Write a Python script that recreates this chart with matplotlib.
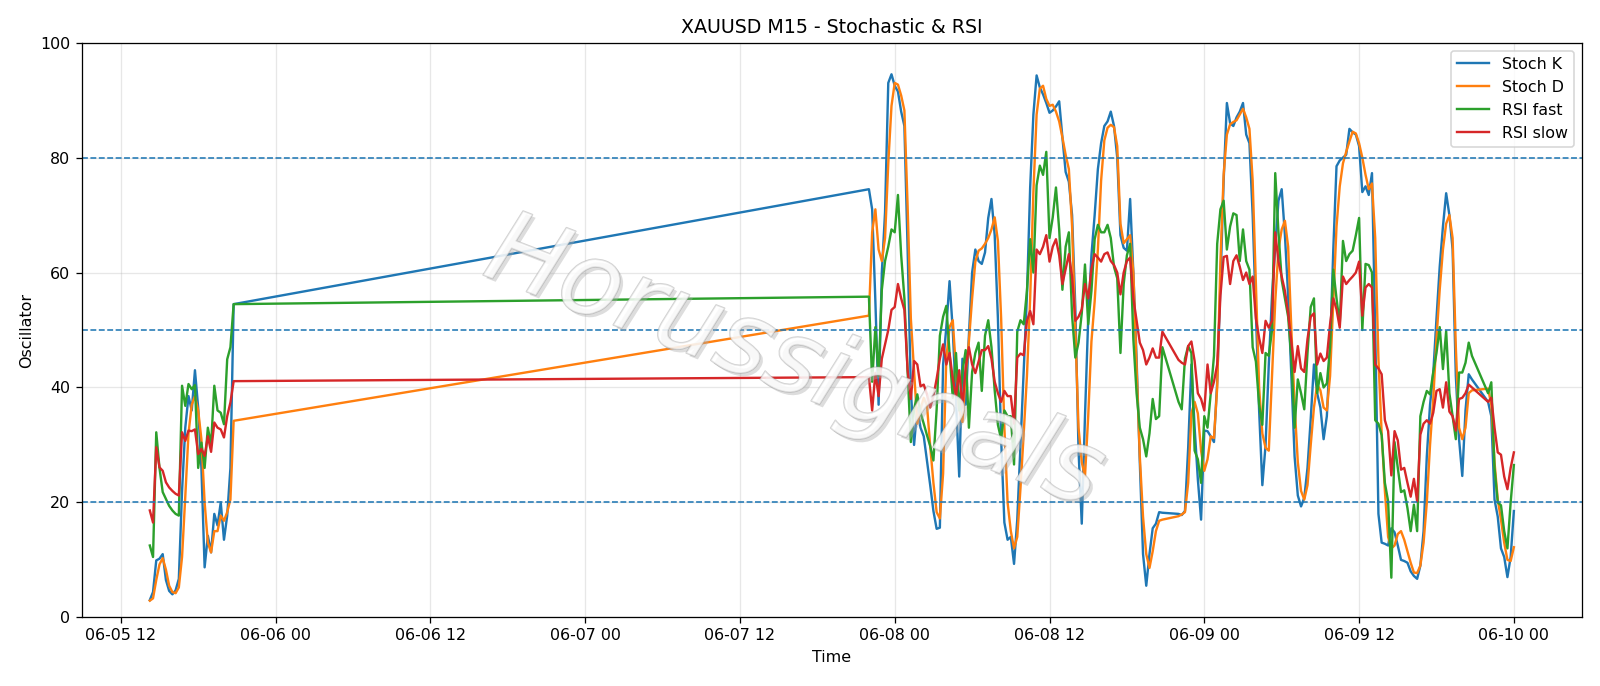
# XAUUSD M15 stochastic + RSI oscillator chart
import pandas as pd
import matplotlib
matplotlib.use("Agg")
import matplotlib.pyplot as plt
import matplotlib.dates as mdates
import matplotlib.patheffects as pe

# trading sessions (15 min bars, daily break 21:00-22:00, weekend gap)
sessions = [
    ("2020-06-05 14:15", "2020-06-05 20:45"),
    ("2020-06-07 22:00", "2020-06-08 20:45"),
    ("2020-06-08 22:00", "2020-06-09 20:45"),
    ("2020-06-09 22:00", "2020-06-10 00:00"),
]

stoch_k = [
    # fri
    3.0, 4.4, 9.9, 10.2, 11.0, 6.5, 4.6, 4.0, 4.7, 6.7,
    22.0, 33.0, 38.5, 36.0, 43.0, 36.5, 26.0, 8.7, 14.2, 11.3,
    18.0, 16.0, 20.0, 13.5, 17.7, 26.0, 54.5,
    # sun/mon
    74.5, 71.0, 55.0, 37.0, 60.0, 70.5, 93.0, 94.5, 92.5, 91.5,
    88.0, 85.5, 64.0, 39.5, 30.0, 36.5, 33.0, 31.5, 27.3, 23.0,
    18.5, 15.4, 15.6, 44.0, 50.5, 58.5, 50.0, 38.0, 24.5, 45.0,
    37.0, 49.0, 60.0, 64.0, 62.0, 61.5, 63.5, 69.5,
    72.8, 66.5, 52.0, 31.0, 16.5, 13.5, 14.0, 9.3, 17.0, 30.0,
    43.0, 56.0, 74.8, 87.5, 94.3, 92.2, 91.0, 89.5, 87.8, 88.2,
    88.9, 89.8, 83.5, 77.5, 75.8, 70.0, 54.0, 29.0, 16.3, 35.0,
    52.0, 63.0, 70.0, 78.0, 82.5, 85.5, 86.3,
    88.0, 85.5, 80.0, 66.5, 64.3, 63.8, 72.8, 60.0, 45.0, 27.0,
    11.0, 5.5, 11.0, 15.5, 16.3, 18.3, 18.2,
    # tue
    18.0, 17.8, 18.5, 29.5, 44.0, 33.0, 24.0, 17.0, 32.5, 32.4,
    31.5, 30.5, 41.0, 58.0, 76.0, 89.5, 86.0, 85.5, 87.0, 88.0,
    89.5, 84.0, 82.5, 70.0, 53.0, 36.0, 23.0, 30.0, 44.0, 56.0,
    64.5, 72.5, 74.5, 66.5, 56.0, 42.0, 28.0, 21.2, 19.3, 20.8,
    26.0, 34.5, 44.0, 39.0, 36.5, 31.0, 35.0, 46.5, 64.0, 78.5,
    79.5, 80.0, 80.5, 85.0, 84.4, 84.0, 82.0, 74.0, 75.0, 73.5,
    77.3, 50.0, 18.0, 13.0, 12.8, 12.5, 15.5, 14.8, 12.5, 10.0,
    9.8, 9.5, 8.0, 7.2, 6.7, 9.0, 15.0, 28.0, 37.0, 42.5,
    52.0, 61.0, 68.0, 73.8, 70.0, 64.0, 42.0, 31.0, 24.6, 36.0,
    42.3, 41.4,
    # wed
    37.5, 35.0, 20.5, 17.5, 12.0, 10.5, 7.0, 10.5, 18.5,
]

stoch_d = [
    2.9, 3.3, 6.5, 9.2, 10.3, 8.3, 5.5, 4.4, 4.2, 5.2,
    10.5, 21.0, 32.0, 37.0, 38.5, 36.0, 31.0, 20.0, 13.0, 11.3,
    15.0, 15.0, 17.7, 16.8, 18.3, 20.5, 34.2,
    52.5, 67.0, 71.0, 64.0, 62.0, 66.0, 79.0, 89.0, 93.0, 92.7,
    90.8, 88.2, 71.5, 52.0, 42.7, 33.7, 36.2, 38.2, 36.9, 29.8,
    23.4, 18.3, 17.2, 25.0, 45.0, 50.5, 51.7, 43.0, 36.2, 34.0,
    42.0, 48.0, 55.5, 61.9, 63.8, 64.2, 65.0, 66.0,
    67.5, 69.6, 65.5, 52.0, 33.0, 20.0, 15.0, 12.0, 14.0, 22.5,
    32.0, 42.0, 55.5, 74.0, 87.5, 92.0, 92.5, 90.2, 89.0, 89.2,
    88.0, 86.3, 83.5, 80.5, 78.0, 68.0, 50.0, 33.0, 27.0, 24.5,
    35.0, 48.0, 55.0, 64.0, 76.0, 83.0, 85.2,
    85.7, 85.3, 82.0, 68.5, 65.1, 65.8, 66.5, 60.0, 43.5, 28.0,
    17.5, 11.0, 8.6, 11.5, 15.0, 16.8, 17.0,
    17.6, 17.9, 18.3, 23.4, 35.5, 37.5, 35.5, 29.0, 25.5, 27.5,
    31.5, 31.2, 40.0, 62.0, 77.0, 84.0, 85.8, 86.2, 86.5, 87.5,
    88.5, 87.0, 85.0, 76.0, 58.0, 40.0, 32.0, 29.5, 29.0, 42.0,
    55.0, 64.0, 67.5, 69.0, 64.5, 50.0, 37.0, 27.0, 22.0, 20.5,
    23.0, 30.0, 36.5, 40.5, 39.5, 36.5, 36.0, 42.0, 55.0, 68.0,
    75.0, 79.0, 81.0, 82.8, 84.5, 84.2, 82.5, 80.0, 77.0, 74.5,
    75.5, 66.0, 45.0, 32.0, 22.0, 14.0, 12.0, 12.5, 14.5, 15.0,
    13.5, 11.5, 9.5, 7.8, 7.7, 9.0, 13.0, 20.0, 30.0, 38.0,
    48.5, 57.0, 64.0, 68.5, 70.0, 66.0, 47.0, 33.0, 31.0, 33.0,
    39.0, 39.5,
    39.8, 37.0, 27.0, 20.5, 17.0, 13.0, 10.0, 9.8, 12.2,
]

rsi_fast = [
    12.5, 10.5, 32.2, 26.0, 21.8, 20.6, 19.4, 18.6, 18.0, 17.7,
    40.3, 36.8, 40.6, 39.7, 40.4, 26.0, 30.4, 26.0, 33.0, 30.0,
    40.3, 36.0, 35.6, 33.6, 44.9, 47.0, 54.5,
    55.8, 41.0, 50.5, 42.0, 57.0, 62.0, 64.5, 67.5, 67.0, 73.5,
    63.0, 55.5, 42.7, 30.5, 36.2, 38.8, 35.6, 33.7, 31.7, 29.8,
    27.3, 36.2, 49.0, 52.3, 54.2, 46.0, 38.2, 46.0, 36.0, 42.7,
    46.5, 33.0, 42.7, 46.0, 47.8, 39.4, 49.0, 51.7,
    47.0, 39.5, 33.5, 31.0, 36.0, 35.0, 35.0, 26.6, 49.7, 51.7,
    51.0, 56.8, 65.8, 60.0, 75.2, 78.6, 77.0, 81.0, 66.0, 69.6,
    74.8, 67.5, 57.0, 64.5, 67.0, 52.5, 45.2, 47.8, 52.9, 61.4,
    51.0, 56.8, 65.8, 68.3, 67.0, 67.0, 68.3,
    66.0, 61.0, 59.0, 46.0, 58.0, 63.0, 65.0, 48.4, 39.0, 33.0,
    31.0, 28.0, 32.0, 38.0, 34.5, 35.0, 47.0,
    37.5, 36.2, 45.0, 47.2, 46.0, 29.0, 27.5, 23.4, 35.0, 33.0,
    39.0, 45.5, 65.0, 71.0, 72.5, 64.0, 68.0, 70.3, 70.0, 62.0,
    67.5, 62.0, 60.5, 47.0, 44.5, 37.0, 33.5, 46.0, 45.5, 50.0,
    77.3, 67.0, 58.7, 55.5, 52.3, 45.0, 33.0, 41.4, 39.0, 36.2,
    46.0, 54.0, 55.5, 39.0, 42.5, 40.0, 40.7, 47.0, 60.5, 55.5,
    51.0, 65.5, 62.0, 63.2, 63.8, 66.5, 69.5, 50.0, 61.5, 61.3,
    60.0, 34.3, 33.7, 31.7, 23.4, 20.2, 6.9, 30.5, 26.0, 21.8,
    22.1, 19.0, 15.0, 19.6, 15.0, 35.0, 37.5, 39.4, 38.8, 42.7,
    46.0, 50.5, 43.2, 49.8, 39.0, 35.0, 31.0, 42.6, 42.6, 44.3,
    47.8, 45.5,
    39.0, 40.9, 26.0, 20.0, 19.5, 15.0, 12.0, 20.0, 26.5,
]

rsi_slow = [
    18.6, 16.5, 29.6, 26.1, 25.5, 23.5, 22.6, 22.0, 21.5, 21.2,
    32.2, 30.7, 32.5, 32.4, 32.7, 28.4, 29.3, 28.1, 31.5, 28.8,
    33.9, 33.0, 32.7, 31.3, 35.0, 37.4, 41.1,
    41.8, 36.0, 42.5, 38.5, 45.0, 47.5, 50.0, 53.5, 54.0, 58.0,
    55.5, 53.5, 43.0, 38.0, 44.6, 44.0, 40.2, 40.5, 38.8, 36.5,
    38.5, 41.5, 45.0, 47.5, 44.0, 46.0, 41.5, 38.5, 43.0, 36.5,
    43.5, 47.0, 44.0, 42.5, 44.5, 46.5, 46.5, 47.2,
    45.0, 41.0, 39.0, 37.5, 39.4, 38.5, 38.5, 33.7, 45.2, 45.9,
    45.6, 51.6, 53.3, 51.0, 64.0, 63.2, 64.5, 66.5, 61.9, 64.5,
    65.8, 63.0, 58.0, 60.6, 63.2, 59.3, 51.6, 52.3, 53.6, 58.0,
    55.5, 60.6, 63.2, 62.6, 61.9, 63.2, 63.5,
    62.0, 61.3, 60.0, 56.2, 60.0, 62.0, 62.6, 55.5, 51.6, 47.8,
    46.5, 44.0, 45.2, 46.8, 45.2, 45.2, 49.7,
    44.8, 44.3, 44.0, 47.2, 48.0, 44.6, 39.0, 38.0, 36.0, 44.0,
    39.0, 41.0, 44.0, 56.0, 62.7, 62.9, 58.0, 62.0, 63.0, 61.0,
    58.7, 60.0, 58.0, 59.3, 52.0, 48.6, 46.0, 51.6, 50.4, 51.6,
    67.0, 61.9, 59.3, 56.8, 52.9, 48.0, 42.7, 47.2, 43.3, 42.7,
    48.4, 52.3, 52.9, 44.0, 45.9, 44.6, 45.2, 51.0, 55.5, 53.6,
    50.4, 59.3, 58.0, 58.7, 59.3, 60.0, 61.9, 52.5, 57.4, 58.0,
    57.4, 44.0, 43.3, 42.3, 34.3, 32.4, 24.7, 32.4, 30.8, 25.7,
    26.0, 23.4, 21.0, 24.1, 20.2, 31.8, 33.7, 34.3, 33.7, 35.6,
    39.4, 39.7, 36.5, 40.9, 35.8, 35.0, 32.5, 38.0, 38.2, 39.0,
    40.5, 40.0,
    37.5, 38.2, 33.0, 28.7, 28.3, 24.5, 22.3, 26.0, 28.7,
]

levels = [20, 50, 80]

# build the bar timestamps
times = pd.DatetimeIndex([])
for start, end in sessions:
    times = times.append(pd.date_range(start, end, freq="15min"))

df = pd.DataFrame({
    "Stoch K": stoch_k,
    "Stoch D": stoch_d,
    "RSI fast": rsi_fast,
    "RSI slow": rsi_slow,
}, index=times)

fig = plt.figure(figsize=(14, 6.0025), dpi=800 / 7)
ax = fig.add_subplot(1, 1, 1)
fig.subplots_adjust(left=0.051, right=0.9888, bottom=0.1001, top=0.9378)

for col in df.columns:
    ax.plot(df.index, df[col], label=col, linewidth=1.5)

for lvl in levels:
    ax.axhline(lvl, color="tab:blue", linestyle="--", linewidth=1)

ax.set_ylim(0, 100)
ax.grid(True, alpha=0.3)
ax.xaxis.set_major_locator(mdates.HourLocator(byhour=[0, 12]))
ax.xaxis.set_major_formatter(mdates.DateFormatter("%m-%d %H"))
ax.set_title("XAUUSD M15 - Stochastic & RSI")
ax.set_xlabel("Time")
ax.set_ylabel("Oscillator")
ax.legend(loc="upper right")

# watermark
ax.text(0.475, 0.44, "Horussignals", transform=ax.transAxes,
        fontsize=64, style="italic", fontweight="light", color="white", alpha=0.45,
        rotation=-21, ha="center", va="center", zorder=10,
        path_effects=[pe.withSimplePatchShadow(offset=(2, -2), shadow_rgbFace="#aaaaaa", alpha=0.4),
                      pe.withStroke(linewidth=1.0, foreground="#999999")])

fig.savefig("out.png", dpi=800 / 7)
